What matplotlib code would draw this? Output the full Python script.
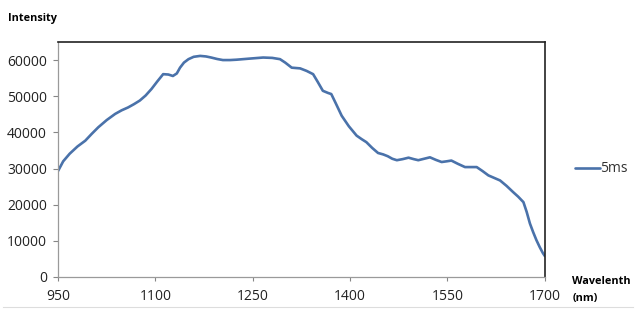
import numpy as np
import matplotlib
matplotlib.use("Agg")
from matplotlib import pyplot as plt
from matplotlib.lines import Line2D

# spectrum (wavelength nm, intensity counts)
wavelength = [950, 958, 968, 980, 992, 1002, 1012, 1025, 1038, 1048, 1058, 1067, 1076, 1085,
              1094, 1103, 1112, 1120, 1127, 1133, 1138, 1144, 1151, 1159, 1169, 1178, 1186,
              1195, 1204, 1215, 1225, 1245, 1266, 1280, 1292, 1300, 1310, 1323, 1333, 1343,
              1350, 1358, 1366, 1371, 1378, 1387, 1398, 1410, 1418, 1425, 1434, 1443, 1451,
              1458, 1465, 1472, 1481, 1490, 1498, 1505, 1514, 1523, 1532, 1541, 1549, 1556,
              1566, 1577, 1586, 1595, 1604, 1613, 1622, 1631, 1641, 1651, 1659, 1667, 1672,
              1677, 1682, 1687, 1692, 1697, 1700]
intensity = [29300, 32000, 34100, 36100, 37700, 39600, 41400, 43400, 45100, 46100, 46900, 47800,
             48800, 50200, 52000, 54100, 56100, 56000, 55600, 56300, 57900, 59300, 60250, 60900,
             61150, 61000, 60700, 60300, 60000, 60000, 60100, 60400, 60700, 60600, 60250, 59300,
             57900, 57700, 57000, 56100, 54000, 51500, 50900, 50600, 48000, 44600, 41700, 39100,
             38100, 37300, 35700, 34300, 33900, 33400, 32700, 32300, 32600, 33000, 32600, 32300,
             32700, 33100, 32400, 31800, 32000, 32200, 31300, 30400, 30400, 30400, 29300, 28100,
             27400, 26700, 25200, 23500, 22200, 20700, 18000, 14800, 12400, 10200, 8300, 6600, 5800]

xticks = [950, 1100, 1250, 1400, 1550, 1700]
yticks = [0, 10000, 20000, 30000, 40000, 50000, 60000]

plt.rcParams['font.family'] = ['Open Sans', 'DejaVu Sans']

fig = plt.figure(figsize=(6.41, 3.22), dpi=100)
ax = fig.add_axes([0.0905, 0.1398, 0.7595, 0.7298])

ax.plot(wavelength, intensity, color='#4A72AA', lw=1.9, solid_capstyle='round',
        solid_joinstyle='round', label='5ms')

ax.set_xlim(950, 1700)
ax.set_ylim(0, 65000)
ax.set_xticks(xticks)
ax.set_yticks(yticks)
ax.tick_params(axis='both', labelsize=10, colors='#868686', labelcolor='#222222')
ax.tick_params(axis='x', length=3, width=0.8, pad=6)
ax.tick_params(axis='y', length=3.5, width=0.8, pad=4.5)

for side in ['left', 'bottom']:
    ax.spines[side].set_color('#9a9a9a')
    ax.spines[side].set_linewidth(0.9)
for side in ['top', 'right']:
    ax.spines[side].set_color('#222222')
    ax.spines[side].set_linewidth(1.2)

fig.text(8 / 641, 1 - 18 / 322, 'Intensity', fontsize=7.8, fontweight='bold', va='center', ha='left')
fig.text(572 / 641, 1 - 282 / 322, 'Wavelenth', fontsize=7.8, fontweight='bold', va='center', ha='left')
fig.text(573 / 641, 1 - 298 / 322, '(nm)', fontsize=7.8, fontweight='bold', va='center', ha='left')

leg = ax.legend(loc='center left', bbox_to_anchor=(1.05, 0.46), frameon=False, fontsize=10,
                handlelength=1.8, handletextpad=0.05, borderaxespad=0)
for t in leg.get_texts():
    t.set_color('#333333')

fig.add_artist(Line2D([0.005, 0.988], [1 - 307 / 322, 1 - 307 / 322], color='#dddddd', lw=0.8))

fig.savefig('out.png', dpi=100, facecolor='white')
